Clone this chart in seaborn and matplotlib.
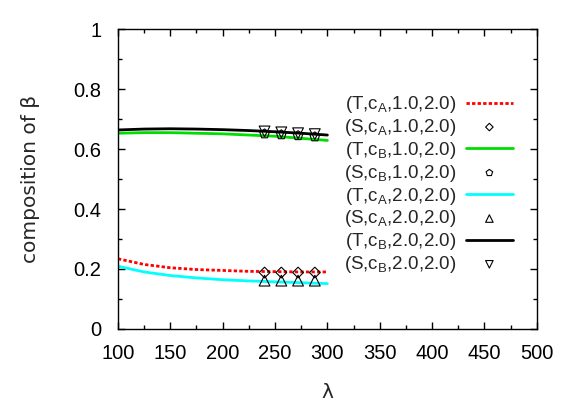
import numpy as np
import pandas as pd
import matplotlib
matplotlib.use("Agg")
import matplotlib.pyplot as plt
import seaborn as sns

# theory curves (lambda from 100 to 300)
lam_T = [100, 125, 150, 175, 200, 225, 250, 275, 300]
T_cA_1 = [0.234, 0.215, 0.204, 0.198, 0.195, 0.192, 0.191, 0.190, 0.190]
T_cB_1 = [0.653, 0.655, 0.655, 0.653, 0.651, 0.647, 0.643, 0.636, 0.629]
T_cA_2 = [0.209, 0.190, 0.178, 0.170, 0.164, 0.160, 0.157, 0.154, 0.151]
T_cB_2 = [0.664, 0.667, 0.668, 0.667, 0.665, 0.662, 0.658, 0.653, 0.647]

# simulation points
lam_S = [240, 256, 272, 288]
S_cA_1 = [0.188, 0.188, 0.188, 0.188]
S_cB_1 = [0.651, 0.648, 0.645, 0.641]
S_cA_2 = [0.161, 0.161, 0.161, 0.161]
S_cB_2 = [0.659, 0.656, 0.653, 0.650]

labels = ["(T,c$_{\\mathregular{A}}$,1.0,2.0)", "(S,c$_{\\mathregular{A}}$,1.0,2.0)",
          "(T,c$_{\\mathregular{B}}$,1.0,2.0)", "(S,c$_{\\mathregular{B}}$,1.0,2.0)",
          "(T,c$_{\\mathregular{A}}$,2.0,2.0)", "(S,c$_{\\mathregular{A}}$,2.0,2.0)",
          "(T,c$_{\\mathregular{B}}$,2.0,2.0)", "(S,c$_{\\mathregular{B}}$,2.0,2.0)"]

sns.set_theme(style="ticks")
plt.rcParams['font.family'] = ['Liberation Sans', 'DejaVu Sans']
plt.rcParams['mathtext.fontset'] = 'custom'
plt.rcParams['mathtext.rm'] = 'Liberation Sans'
plt.rcParams['mathtext.it'] = 'Liberation Sans'

fig = plt.figure(figsize=(5.81, 4.07), dpi=100)
ax = fig.add_axes([0.203, 0.192, 0.721, 0.736])

sns.lineplot(x=lam_T, y=T_cA_1, ax=ax, color="#ff0000", lw=2, linestyle=(0, (1.2, 0.8)), label=labels[0])
sns.scatterplot(x=lam_S, y=S_cA_1, ax=ax, marker="D", s=30, facecolor="none", edgecolor="black", linewidth=0.8, label=labels[1], zorder=5)
sns.lineplot(x=lam_T, y=T_cB_1, ax=ax, color="#00dd00", lw=2, label=labels[2])
sns.scatterplot(x=lam_S, y=S_cB_1, ax=ax, marker="p", s=50, facecolor="none", edgecolor="black", linewidth=0.8, label=labels[3], zorder=5)
sns.lineplot(x=lam_T, y=T_cA_2, ax=ax, color="#00ffff", lw=2, label=labels[4])
sns.scatterplot(x=lam_S, y=S_cA_2, ax=ax, marker="^", s=60, facecolor="none", edgecolor="black", linewidth=0.8, label=labels[5], zorder=5)
sns.lineplot(x=lam_T, y=T_cB_2, ax=ax, color="black", lw=2, label=labels[6])
sns.scatterplot(x=lam_S, y=S_cB_2, ax=ax, marker="v", s=60, facecolor="none", edgecolor="black", linewidth=0.8, label=labels[7], zorder=5)

ax.set_xlim(100, 500)
ax.set_ylim(0, 1)
ax.set_xticks(range(100, 501, 50))
ax.set_xticks(range(100, 501, 25), minor=True)
ax.set_yticks([0, 0.2, 0.4, 0.6, 0.8, 1])
ax.set_yticklabels(["0", "0.2", "0.4", "0.6", "0.8", "1"])
ax.set_yticks(np.arange(0, 1.01, 0.1), minor=True)
ax.tick_params(which="both", direction="in", top=True, right=True, labelsize=14.5, colors="black", width=1)
ax.tick_params(which="major", length=5)
ax.tick_params(which="minor", length=3)
ax.tick_params(axis="y", which="major", pad=12)
ax.tick_params(axis="x", which="major", pad=11)
for s in ax.spines.values():
    s.set_color("black")
    s.set_linewidth(1)
ax.set_xlabel("λ", fontsize=14.5, family=['DejaVu Sans'])
ax.set_ylabel("composition of β", fontsize=14.5, family=['DejaVu Sans'])
ax.xaxis.labelpad = 14
ax.yaxis.labelpad = 24

leg = ax.legend(loc="upper right", bbox_to_anchor=(0.965, 0.815), frameon=False, markerfirst=False,
                fontsize=13.5, handlelength=2.5, labelspacing=0.1, handletextpad=0.5, borderpad=0,
                markerscale=0.7)

fig.savefig("out.png", dpi=100)
